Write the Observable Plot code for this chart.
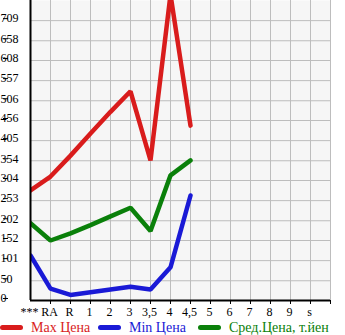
<!DOCTYPE html>
<html>
<head>
<meta charset="utf-8">
<script src="https://cdn.jsdelivr.net/npm/d3@7"></script>
<script src="https://cdn.jsdelivr.net/npm/@observablehq/plot@0.6"></script>
<style>
  body { margin: 0; background: #ffffff; width: 345px; height: 335px; overflow: hidden; }
  #chart svg { display: block; }
  #legend { position: relative; height: 15px; font-family: "Liberation Serif", "DejaVu Serif", serif; font-size: 14px; }
  .item { position: absolute; top: 0; height: 15px; display: flex; align-items: center; white-space: nowrap; }
  .sw { display: inline-block; width: 23px; height: 5px; border-radius: 3px; margin-right: 8px; }
</style>
</head>
<body>
<div id="chart"></div>
<div id="legend"></div>
<script>
const categories = ["***", "RA", "R", "1", "2", "3", "3,5", "4", "4,5", "5", "6", "7", "8", "9", "s"];
const maxPrice = [279, 314, 367, 423, 478, 530, 355, 775, 443];
const minPrice = [114, 30, 14, 21, 28, 35, 28, 84, 266];
const avgPrice = [196, 152, 170, 191, 213, 235, 176, 317, 355];
const yTicks = [0, 50, 101, 152, 202, 253, 304, 354, 405, 456, 506, 557, 608, 658, 709];
const seriesNames = ["Max Цена", "Min Цена", "Сред.Цена, т.йен"];
const seriesColors = ["#d91c1c", "#1a1ad6", "#0a800a"];

const toRows = (vals) => vals.map((v, i) => ({ i, v }));
const xPositions = categories.map((c, i) => i);
const gridPositions = categories.map((c, i) => i + 1);
const lineOpts = (k) => ({ x: "i", y: "v", stroke: seriesColors[k], strokeWidth: 4.5, strokeLinecap: "round", strokeLinejoin: "miter", clip: true });

const chart = Plot.plot({
  width: 345,
  height: 320,
  marginLeft: 30,
  marginRight: 15,
  marginTop: 0,
  marginBottom: 20,
  x: { domain: [0, categories.length] },
  y: { domain: [0, 760] },
  style: { background: "transparent", fontFamily: "'Liberation Serif', 'DejaVu Serif', serif", fontSize: "12px", color: "#000" },
  marks: [
    Plot.frame({ fill: "#f6f6f6", stroke: null }),
    Plot.gridX(gridPositions, { stroke: "#bdbdbd", strokeOpacity: 1, strokeWidth: 1 }),
    Plot.gridY(yTicks.slice(1), { stroke: "#bdbdbd", strokeOpacity: 1, strokeWidth: 1 }),
    Plot.line(toRows(maxPrice), lineOpts(0)),
    Plot.line(toRows(minPrice), lineOpts(1)),
    Plot.line(toRows(avgPrice), lineOpts(2)),
    Plot.axisY(yTicks, { tickSize: 5, tickPadding: 3, textAnchor: "start", dx: -22, dy: -2, tickFormat: (d) => String(d), label: null }),
    Plot.axisX(gridPositions, { tickSize: 4, tickFormat: () => "", label: null }),
    Plot.axisX(xPositions, { tickSize: 0, tickPadding: 7, dx: -1, tickFormat: (i) => categories[i], label: null }),
    Plot.ruleX([0], { stroke: "#000", strokeWidth: 2 }),
    Plot.ruleY([0], { stroke: "#000", strokeWidth: 2 })
  ]
});
document.getElementById("chart").appendChild(chart);

const legendLefts = [0, 98, 198];
const legend = document.getElementById("legend");
seriesNames.forEach((name, k) => {
  const item = document.createElement("div");
  item.className = "item";
  item.style.left = legendLefts[k] + "px";
  item.style.color = seriesColors[k];
  const sw = document.createElement("span");
  sw.className = "sw";
  sw.style.background = seriesColors[k];
  item.appendChild(sw);
  item.appendChild(document.createTextNode(name));
  legend.appendChild(item);
});
</script>
</body>
</html>
